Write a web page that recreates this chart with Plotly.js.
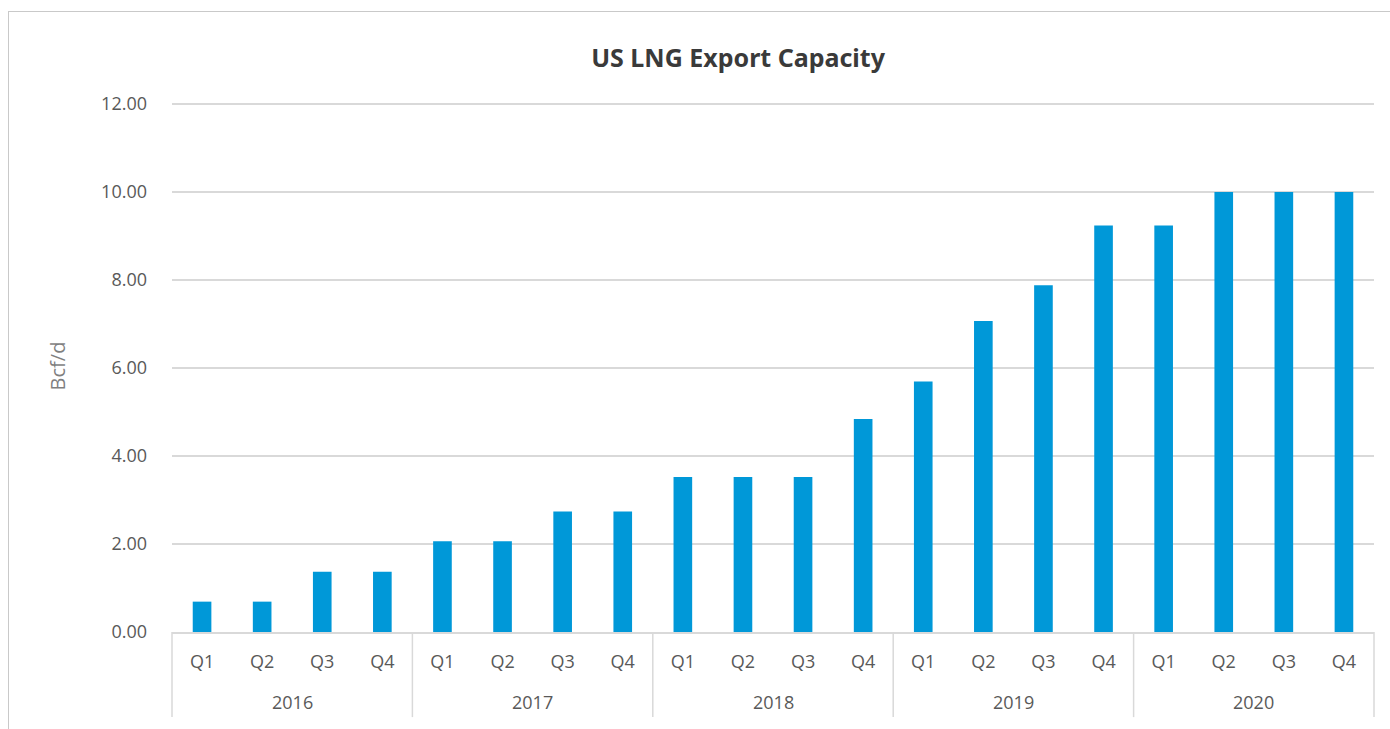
<!DOCTYPE html>
<html>
<head>
<meta charset="utf-8">
<script src="https://cdn.plot.ly/plotly-3.0.1.min.js"></script>
<style>
html,body{margin:0;padding:0;background:#fff;}
#chart{width:1390px;height:729px;}
#frame{position:absolute;left:8px;top:11px;width:1500px;height:800px;border:1.5px solid #c9c9c9;pointer-events:none;}
</style>
</head>
<body>
<div id="chart"></div>
<div id="frame"></div>
<script>
const years = ["2016","2016","2016","2016","2017","2017","2017","2017","2018","2018","2018","2018","2019","2019","2019","2019","2020","2020","2020","2020"];
const quarters = ["Q1","Q2","Q3","Q4","Q1","Q2","Q3","Q4","Q1","Q2","Q3","Q4","Q1","Q2","Q3","Q4","Q1","Q2","Q3","Q4"];
const capacity = [0.69,0.69,1.37,1.37,2.06,2.06,2.74,2.74,3.52,3.52,3.52,4.84,5.69,7.07,7.88,9.24,9.24,10.0,10.0,10.0];
const yTicks = [0,2,4,6,8,10,12];

// positions along the category axis
const idx = quarters.map((_, i) => i);
const xRange = [-0.5, quarters.length - 0.5];

// groups of years
const groups = [];
years.forEach((y, i) => {
  const g = groups[groups.length - 1];
  if (g && g.name === y) g.end = i;
  else groups.push({name: y, start: i, end: i});
});
const toPaper = v => (v - xRange[0]) / (xRange[1] - xRange[0]);

const dividerBottom = -0.16;
const yearLabelY = -0.132;

const boundaries = [groups[0].start - 0.5].concat(groups.map(g => g.end + 0.5));
const shapes = boundaries.map(b => ({
  type: "line", xref: "paper", yref: "paper",
  x0: toPaper(b), x1: toPaper(b), y0: 0, y1: dividerBottom,
  line: {color: "#d9d9d9", width: 1.5}
}));
const annotations = groups.map(g => ({
  xref: "paper", yref: "paper",
  x: toPaper((g.start + g.end) / 2), y: yearLabelY,
  text: g.name, showarrow: false,
  xanchor: "center", yanchor: "middle",
  font: {family: "Open Sans, sans-serif", size: 18, color: "#595959"}
}));

const trace = {
  type: "bar",
  x: idx,
  y: capacity,
  marker: {color: "#0098d8"},
  hoverinfo: "y"
};

const layout = {
  width: 1390, height: 729,
  margin: {l: 172, r: 16, t: 100, b: 97},
  paper_bgcolor: "#ffffff",
  plot_bgcolor: "#ffffff",
  bargap: 0.69,
  showlegend: false,
  font: {family: "Open Sans, sans-serif", color: "#595959"},
  title: {
    text: "<b>US LNG Export Capacity</b>",
    font: {family: "Noto Sans, sans-serif", size: 25, color: "#3a3a3a"},
    x: 0.531, xref: "container", xanchor: "center",
    y: 0.92, yref: "container", yanchor: "middle"
  },
  xaxis: {
    type: "linear",
    range: xRange,
    tickvals: idx,
    ticktext: quarters,
    showline: true, linecolor: "#d9d9d9", linewidth: 1.5,
    showgrid: false, zeroline: false,
    ticks: "",
    ticklabelstandoff: 13,
    tickfont: {size: 18, color: "#595959"}
  },
  yaxis: {
    range: [0, 12.09],
    tickvals: yTicks,
    tickformat: ".2f",
    showgrid: true, gridcolor: "#d9d9d9", gridwidth: 1.5,
    zeroline: false, showline: false,
    ticks: "",
    ticklabelstandoff: 24,
    tickfont: {size: 18, color: "#595959"},
    title: {text: "Bcf/d", font: {size: 20, color: "#7f7f7f"}, standoff: 30}
  },
  shapes: shapes,
  annotations: annotations
};

Plotly.newPlot("chart", [trace], layout, {displayModeBar: false, staticPlot: true});
</script>
</body>
</html>
